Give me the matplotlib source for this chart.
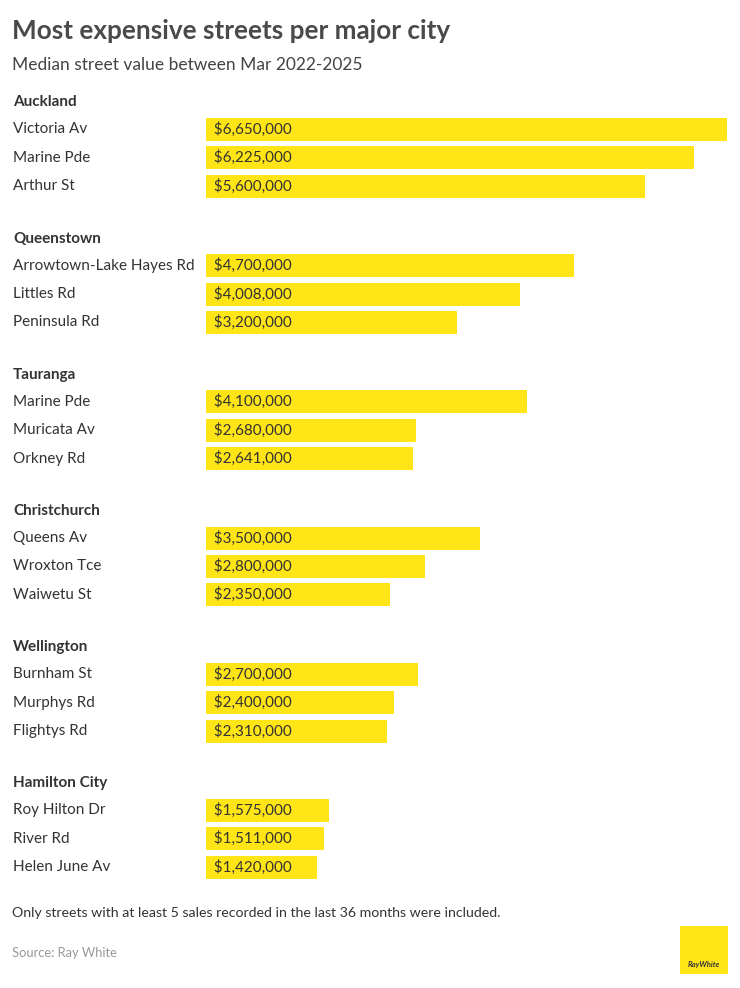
import matplotlib
matplotlib.use("Agg")
import matplotlib.pyplot as plt
from matplotlib.patches import Rectangle

plt.rcParams['font.family'] = ['Lato', 'DejaVu Sans']

cities = ["Auckland", "Queenstown", "Tauranga", "Christchurch", "Wellington", "Hamilton City"]
streets = [
    ["Victoria Av", "Marine Pde", "Arthur St"],
    ["Arrowtown-Lake Hayes Rd", "Littles Rd", "Peninsula Rd"],
    ["Marine Pde", "Muricata Av", "Orkney Rd"],
    ["Queens Av", "Wroxton Tce", "Waiwetu St"],
    ["Burnham St", "Murphys Rd", "Flightys Rd"],
    ["Roy Hilton Dr", "River Rd", "Helen June Av"],
]
values = [
    [6650000, 6225000, 5600000],
    [4700000, 4008000, 3200000],
    [4100000, 2680000, 2641000],
    [3500000, 2800000, 2350000],
    [2700000, 2400000, 2310000],
    [1575000, 1511000, 1420000],
]

W, H = 740, 988
fig = plt.figure(figsize=(W / 100, H / 100), dpi=100)
fig.patch.set_facecolor("white")

BAR_L, BAR_R = 206, 727
ax = fig.add_axes([BAR_L / W, 0, (BAR_R - BAR_L) / W, 1])
ax.set_xlim(0, max(max(v) for v in values))
ax.set_ylim(H, 0)
ax.axis("off")

YELLOW = "#FFE516"
TEXT = "#333333"

first_header = 101
group_gap = 136.2
row_gap = 28.4
bar_h = 23

def fx(px):
    return px / W

def fy(py):
    return 1 - py / H

for gi, city in enumerate(cities):
    hy = first_header + gi * group_gap
    fig.text(fx(13), fy(hy + 1.5), city, fontsize=11, fontweight="bold", color=TEXT,
             va="center", ha="left")
    for ri, (st, v) in enumerate(zip(streets[gi], values[gi])):
        y = hy + (ri + 1) * row_gap
        ax.barh(y, v, height=bar_h, color=YELLOW, left=0)
        fig.text(fx(13), fy(y), st, fontsize=11, color=TEXT, va="center", ha="left")
        ax.text(0, y, f"  ${v:,.0f}", fontsize=11, color=TEXT, va="center", ha="left")

fig.text(fx(12), fy(31), "Most expensive streets per major city", fontsize=18.8,
         fontweight="bold", color="#4a4a4a", va="center", ha="left")
fig.text(fx(12), fy(65), "Median street value between Mar 2022-2025", fontsize=12.5,
         color="#444444", va="center", ha="left")
fig.text(fx(12), fy(913), "Only streets with at least 5 sales recorded in the last 36 months were included.",
         fontsize=10.15, color=TEXT, va="center", ha="left")
fig.text(fx(12), fy(953), "Source: Ray White", fontsize=9.3, color="#999999",
         va="center", ha="left")

# logo
fig.patches.append(Rectangle((fx(680), fy(974)), 48 / W, 48 / H, transform=fig.transFigure,
                             facecolor="#FFE516", edgecolor="none"))
fig.text(fx(704), fy(964), "RayWhite", fontsize=5.5, fontweight="bold", style="italic",
         color="#333333", ha="center", va="center")

fig.savefig("out.png", dpi=100, facecolor="white")
